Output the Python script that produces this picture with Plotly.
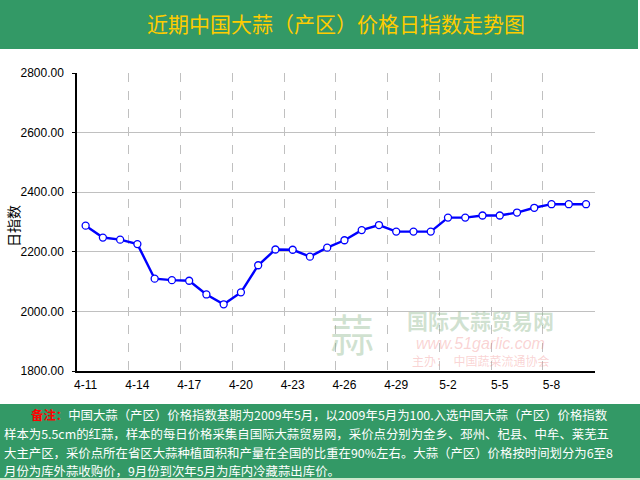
import plotly.graph_objects as go

# ---------------- data ----------------
dates = ["4-11", "4-12", "4-13", "4-14", "4-15", "4-16", "4-17", "4-18", "4-19", "4-20",
         "4-21", "4-22", "4-23", "4-24", "4-25", "4-26", "4-27", "4-28", "4-29", "4-30",
         "5-1", "5-2", "5-3", "5-4", "5-5", "5-6", "5-7", "5-8", "5-9", "5-10"]
index_values = [2288, 2248, 2241, 2226, 2110, 2105, 2103, 2057, 2024, 2064,
                2155, 2208, 2207, 2184, 2214, 2239, 2273, 2290, 2268, 2268,
                2268, 2315, 2315, 2322, 2322, 2332, 2348, 2360, 2360, 2360]
tick_labels = ["4-11", "4-14", "4-17", "4-20", "4-23", "4-26", "4-29", "5-2", "5-5", "5-8"]
y_ticks = [1800, 2000, 2200, 2400, 2600, 2800]

title_text = "近期中国大蒜（产区）价格日指数走势图"
y_title = "日指数"
note_lines = [
    '<span style="color:#FF0000"><b>备注：</b></span>中国大蒜（产区）价格指数基期为2009年5月，以2009年5月为100.入选中国大蒜（产区）价格指数',
    "样本为5.5cm的红蒜，样本的每日价格采集自国际大蒜贸易网，采价点分别为金乡、邳州、杞县、中牟、莱芜五",
    "大主产区，采价点所在省区大蒜种植面积和产量在全国的比重在90%左右。大蒜（产区）价格按时间划分为6至8",
    "月份为库外蒜收购价，9月份到次年5月为库内冷藏蒜出库价。",
]

# ---------------- layout geometry (pixels) ----------------
W, H = 640, 480
L, R, T, B = 77, 45, 73, 109
PW, PH = W - L - R, H - T - B


def px(x):
    return (x - L) / PW


def py(y):
    return (H - B - y) / PH


xs = list(range(len(dates)))
tick_pos = [dates.index(t) for t in tick_labels]
boundaries = [p - 0.5 for p in tick_pos[1:]] + [len(dates) - 0.5]

GREEN = "#339966"
CJK = "Noto Sans CJK SC"

fig = go.Figure()
fig.add_trace(go.Scatter(
    x=xs, y=index_values, mode="lines+markers",
    line=dict(color="#0000FF", width=2.4),
    marker=dict(symbol="circle", size=7, color="#FFFFFF",
                line=dict(color="#0000FF", width=1.3)),
    hovertext=dates, showlegend=False,
))

fig.update_layout(
    width=W, height=H,
    margin=dict(l=L, r=R, t=T, b=B, pad=0),
    paper_bgcolor="#FFFFFF", plot_bgcolor="#FFFFFF",
    font=dict(family="Liberation Sans, Arial", size=12, color="#000000"),
    title=dict(text=title_text, x=0.5, xanchor="center", xref="paper",
               y=1 - 25 / H, yanchor="middle", yref="container",
               font=dict(family=CJK, size=21, color="#FFCC00")),
    xaxis=dict(
        range=[-0.5, len(dates) - 0.48], tickmode="array",
        tickvals=tick_pos, ticktext=tick_labels,
        showgrid=False, zeroline=False,
        showline=True, linecolor="#000000", linewidth=1.5,
        ticks="", ticklabelstandoff=2,
        tickfont=dict(family="Liberation Sans, Arial", size=12, color="#000000"),
        minor=dict(tickmode="array", tickvals=boundaries, showgrid=True,
                   gridcolor="#C0C0C0", griddash="dash", gridwidth=1, ticks=""),
    ),
    yaxis=dict(
        range=[1800, 2800.5], tickmode="array", tickvals=y_ticks,
        tickformat=".2f", showgrid=True, gridcolor="#C0C0C0", gridwidth=1,
        zeroline=False, showline=True, linecolor="#000000", linewidth=1.5,
        ticks="outside", ticklen=3, tickcolor="#000000", ticklabelstandoff=6,
        tickfont=dict(family="Liberation Sans, Arial", size=12, color="#000000"),
    ),
)

shapes = [
    dict(type="rect", xref="paper", yref="paper", x0=px(0), x1=px(638),
         y0=py(49), y1=py(0), fillcolor=GREEN, line=dict(width=0), layer="below"),
    dict(type="rect", xref="paper", yref="paper", x0=px(0), x1=px(640),
         y0=py(478), y1=py(404), fillcolor=GREEN, line=dict(width=0), layer="below"),
    dict(type="rect", xref="paper", yref="paper", x0=px(0), x1=px(640),
         y0=py(480), y1=py(478), fillcolor="#CCE8CC", line=dict(width=0), layer="below"),
]
fig.update_layout(shapes=shapes)

annotations = [
    dict(text=y_title, textangle=-90, x=px(13), y=py(226), xref="paper", yref="paper",
         showarrow=False, xanchor="center", yanchor="middle",
         font=dict(family=CJK, size=14, color="#000000")),
    # watermark
    dict(text="蒜", x=px(352), y=py(333), xref="paper", yref="paper", showarrow=False,
         xanchor="center", yanchor="middle", borderpad=0,
         font=dict(family=CJK, size=44, color="rgba(120,170,120,0.35)")),
    dict(text="<b>国际大蒜贸易网</b>", x=px(480), y=py(320), xref="paper", yref="paper",
         showarrow=False, xanchor="center", yanchor="middle", borderpad=0,
         font=dict(family=CJK, size=21, color="rgba(120,170,120,0.35)")),
    dict(text="<i>www.51garlic.com</i>", x=px(480), y=py(343), xref="paper", yref="paper",
         showarrow=False, xanchor="center", yanchor="middle", borderpad=0,
         font=dict(family="Liberation Sans, Arial", size=16, color="rgba(240,130,130,0.35)")),
    dict(text="主办：  中国蔬菜流通协会", x=px(480), y=py(360), xref="paper", yref="paper",
         showarrow=False, xanchor="center", yanchor="middle", borderpad=0,
         font=dict(family=CJK, size=12, color="rgba(240,130,130,0.35)")),
]

note_x = [30, 3, 3, 3]
note_y = [415, 434, 453, 471]
for t, nx, ny in zip(note_lines, note_x, note_y):
    annotations.append(dict(text=t, x=px(nx), y=py(ny), xref="paper", yref="paper",
                            showarrow=False, xanchor="left", yanchor="middle",
                            borderpad=0,
                            font=dict(family=CJK, size=12.4, color="#FFFFFF")))
fig.update_layout(annotations=annotations)

fig.write_html("out.html")
